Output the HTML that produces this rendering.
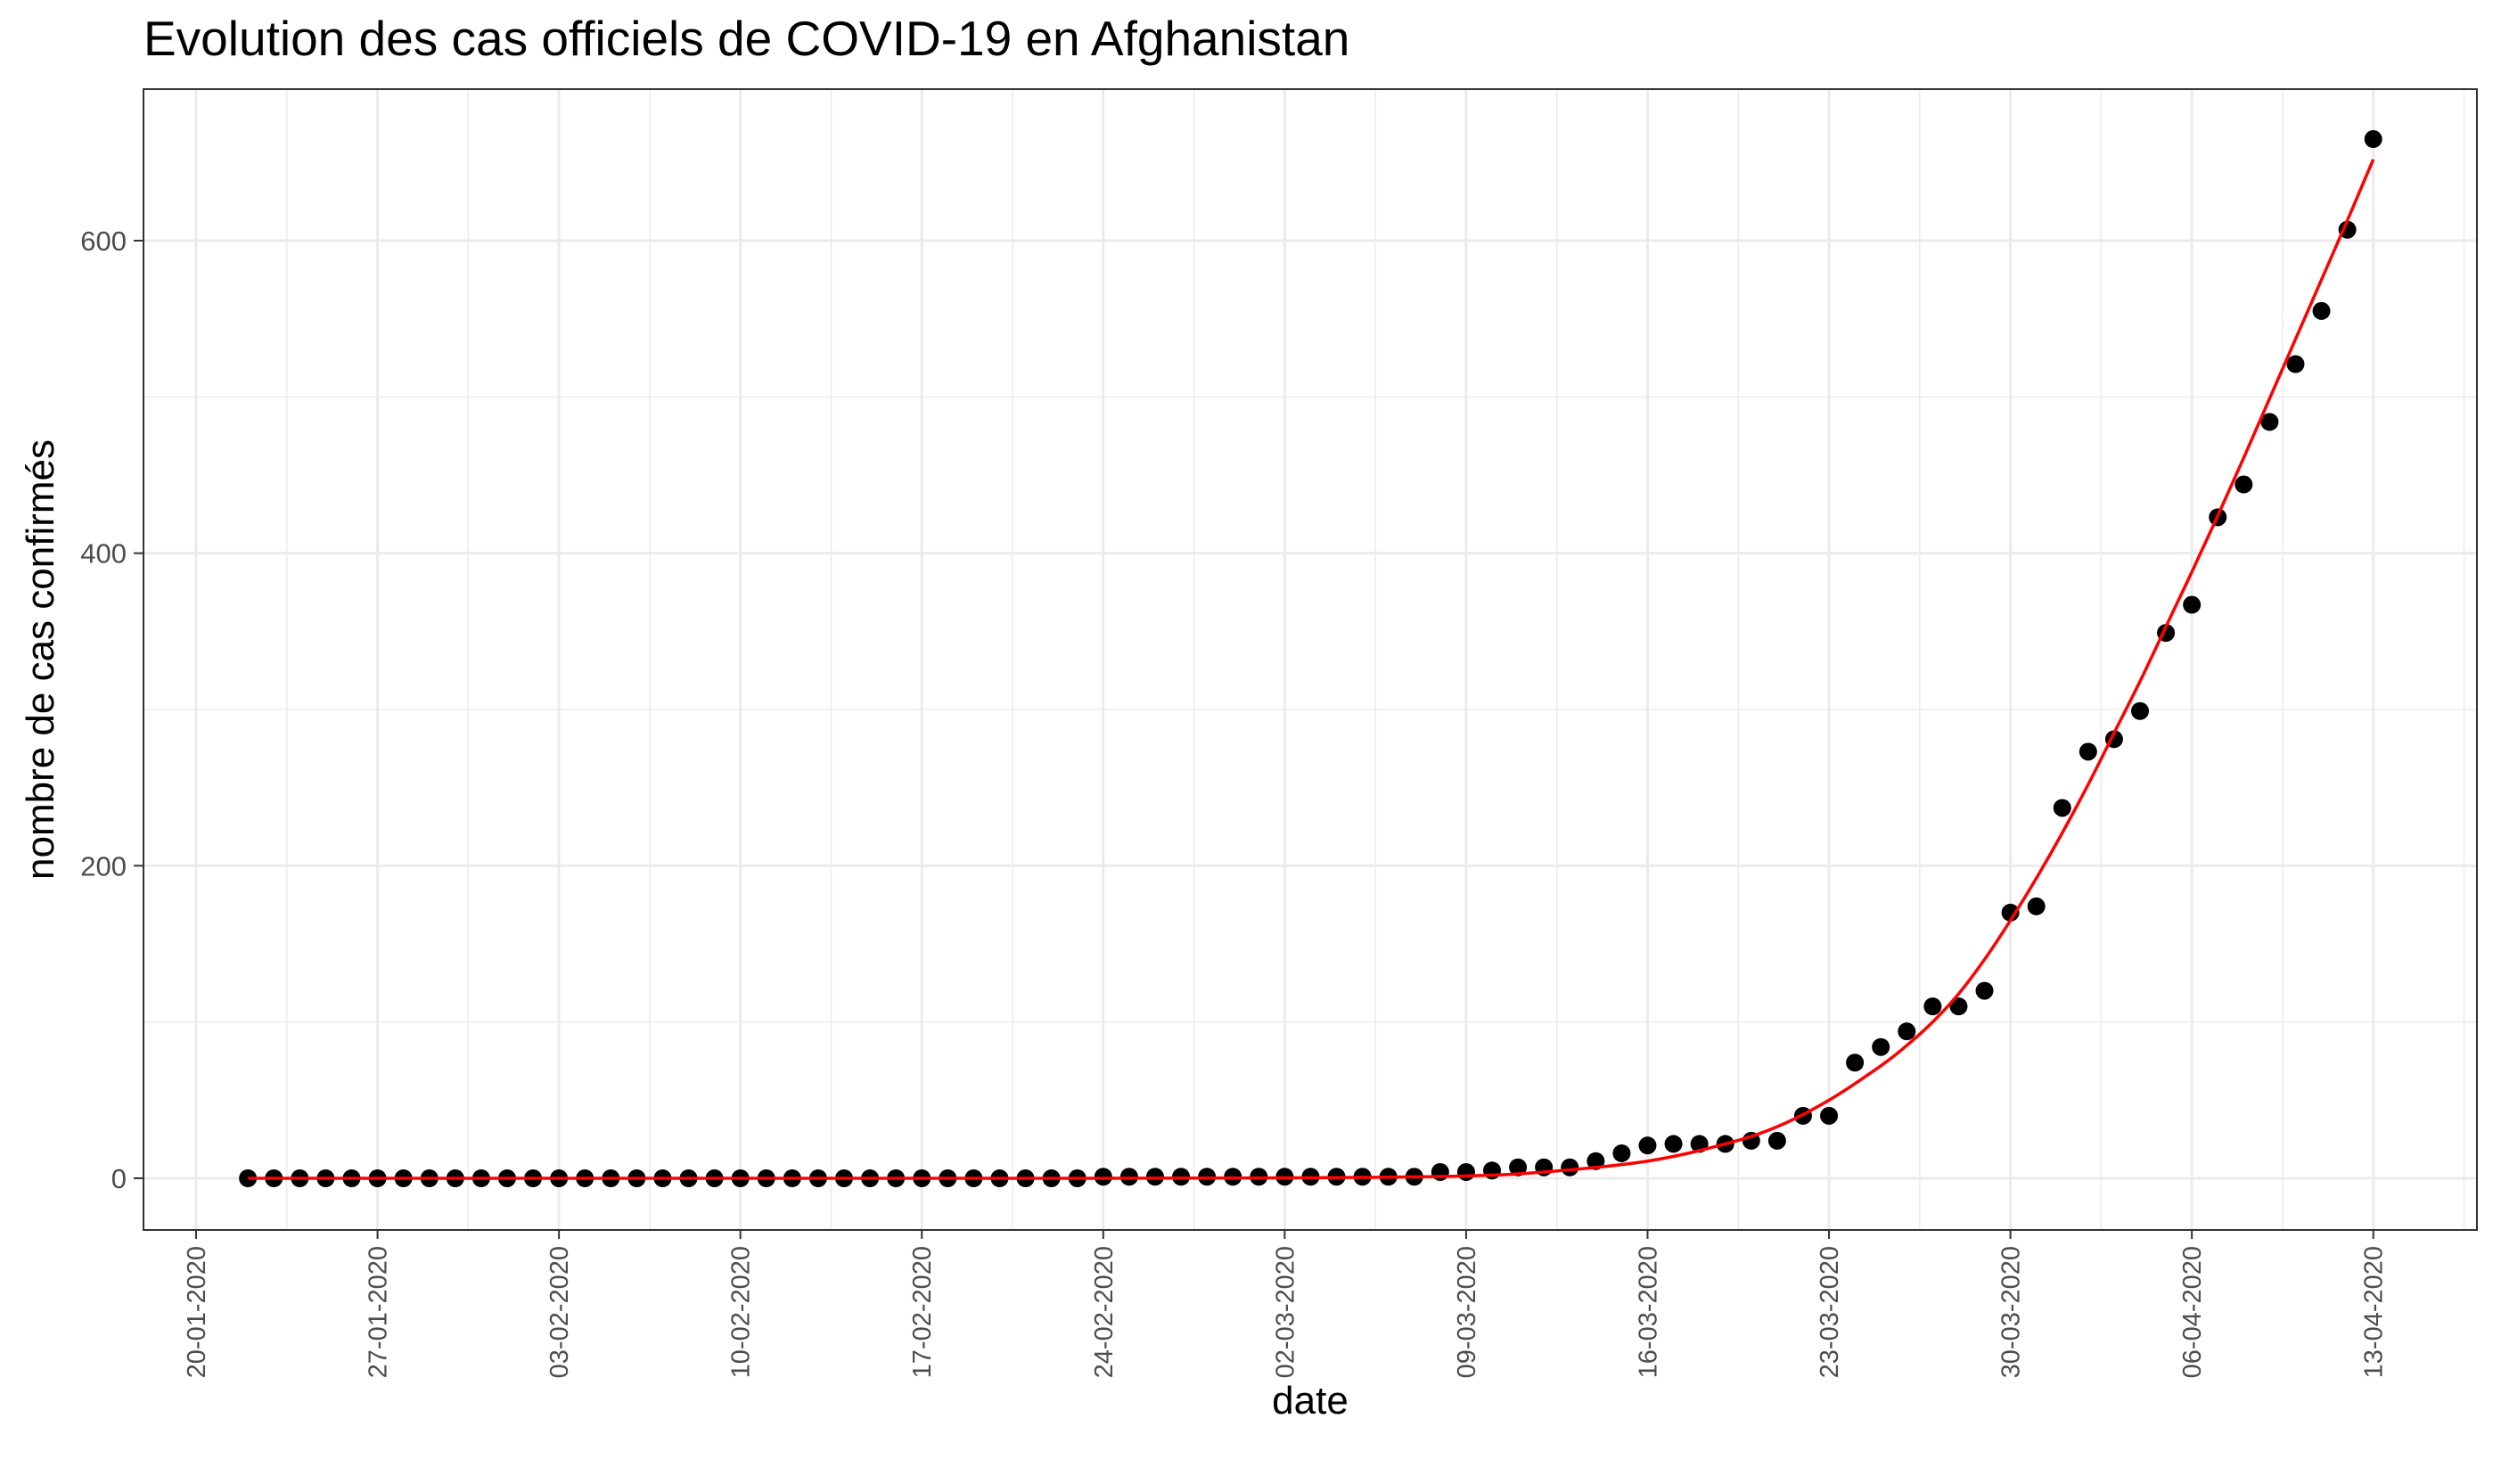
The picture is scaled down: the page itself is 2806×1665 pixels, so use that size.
<!DOCTYPE html>
<html><head><meta charset="utf-8"><style>
html,body{margin:0;padding:0;background:#fff;}
svg{display:block;font-family:"Liberation Sans",Arial,sans-serif;}
</style></head><body>
<svg id="chart" width="2806" height="1665" viewBox="0 0 2806 1665" xmlns="http://www.w3.org/2000/svg">
<rect x="0" y="0" width="2806" height="1665" fill="#fff"/>
<text x="161" y="62" font-size="55" fill="#000">Evolution des cas officiels de COVID-19 en Afghanistan</text>
<g id="grid"></g>
<g id="marks"></g>
<rect x="161" y="100" width="2618" height="1280" fill="none" stroke="#333" stroke-width="2"/>
<g id="axes"></g>
<text x="1470" y="1586" font-size="44" text-anchor="middle" fill="#000">date</text>
<text x="0" y="0" font-size="44" text-anchor="middle" fill="#000" transform="translate(60,740) rotate(-90)">nombre de cas confirmés</text>
</svg>
<script>
// day offsets from 20-01-2020
const xTickLabels = ["20-01-2020","27-01-2020","03-02-2020","10-02-2020","17-02-2020","24-02-2020","02-03-2020","09-03-2020","16-03-2020","23-03-2020","30-03-2020","06-04-2020","13-04-2020"];
const yTicks = [0,200,400,600];
const yMinor = [100,300,500];
const firstDay = 2; // 22-01-2020
const cases = [0,0,0,0,0,0,0,0,0,0,0,0,0,0,0,0,0,0,0,0,0,0,0,0,0,0,0,0,0,0,0,0,0,
1,1,1,1,1,1,1,1,1,1,1,1,1,
4,4,5,7,7,7,11,16,21,22,22,22,24,24,40,40,74,84,94,110,110,120,170,174,237,273,281,299,349,367,423,444,484,521,555,607,665];
const fitDays = [2,20,35,42,45,49,52,56,59,61,63,65,66,67,68,69,70,71,72,73,74,75,76,77,78,79,80,81,82,83,84];
const fitVals = [0,0,0,0.3,0.6,1.5,4,11,22,33,50,72,85,100,118,140,165,192,221,252,285,318,353,388,424,461,499,537,575,613,652];

const NS="http://www.w3.org/2000/svg";
const L=161,R=2779,T=100,B=1380;
const x0=220, pxDay=29.08, y0=1322, pxUnit=1052/600;
function xs(d){return x0+d*pxDay;}
function ys(v){return y0-v*pxUnit;}
function mk(tag,attrs,parent){const e=document.createElementNS(NS,tag);for(const k in attrs)e.setAttribute(k,attrs[k]);parent.appendChild(e);return e;}
const grid=document.getElementById('grid'),marks=document.getElementById('marks'),axes=document.getElementById('axes');

yMinor.forEach(v=>{const l=mk('line',{x1:L,x2:R,y1:ys(v),y2:ys(v),stroke:'#ebebeb','stroke-width':1.5},grid);

});
for(let i=-1;i<xTickLabels.length;i++){const d=i*7+3.5;const x=xs(d);if(x<L||x>R)continue;
const l=mk('line',{x1:x,x2:x,y1:T,y2:B,stroke:'#ebebeb','stroke-width':1.5},grid);

}
yTicks.forEach(v=>{const y=ys(v);
const l=mk('line',{x1:L,x2:R,y1:y,y2:y,stroke:'#ebebeb','stroke-width':3},grid);


const t=mk('line',{x1:150,x2:L,y1:y,y2:y,stroke:'#333','stroke-width':2},axes);


const tx=mk('text',{x:142,y:y+11,'font-size':31,'text-anchor':'end',fill:'#4d4d4d'},axes);tx.textContent=v;

});
xTickLabels.forEach((lab,i)=>{const x=xs(i*7);
const l=mk('line',{x1:x,x2:x,y1:T,y2:B,stroke:'#ebebeb','stroke-width':3},grid);


const t=mk('line',{x1:x,x2:x,y1:B,y2:B+10,stroke:'#333','stroke-width':2},axes);


const tx=mk('text',{x:0,y:0,'font-size':29,'text-anchor':'end',fill:'#4d4d4d',transform:`translate(${x+10},${B+18}) rotate(-90)`},axes);tx.textContent=lab;

});

cases.forEach((v,i)=>{const c=mk('circle',{cx:xs(firstDay+i),cy:ys(v),r:10,fill:'#000'},marks);

});

// smooth fit via Catmull-Rom
const pts=fitDays.map((d,i)=>[xs(d),ys(fitVals[i])]);
let dPath=`M${pts[0][0]},${pts[0][1]}`;
for(let i=0;i<pts.length-1;i++){const p0=pts[i-1]||pts[i],p1=pts[i],p2=pts[i+1],p3=pts[i+2]||p2;
const c1=[p1[0]+(p2[0]-p0[0])/6,p1[1]+(p2[1]-p0[1])/6],c2=[p2[0]-(p3[0]-p1[0])/6,p2[1]-(p3[1]-p1[1])/6];
dPath+=` C${c1[0]},${c1[1]} ${c2[0]},${c2[1]} ${p2[0]},${p2[1]}`;}
const fl=mk('path',{d:dPath,fill:'none',stroke:'#ff0000','stroke-width':3.5},marks);


</script>
</body></html>
